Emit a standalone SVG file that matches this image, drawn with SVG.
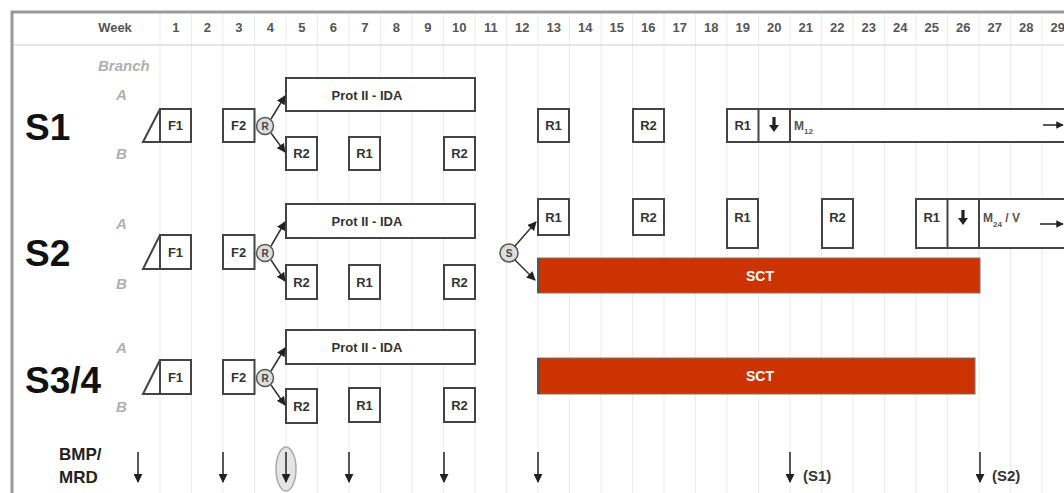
<svg xmlns="http://www.w3.org/2000/svg" width="1064" height="493" viewBox="0 0 1064 493">
<style>
text{font-family:"Liberation Sans",Arial,sans-serif;font-weight:bold}
.wk{font-size:13px;fill:#555;text-anchor:middle}
.grid{stroke:#ebebeb;stroke-width:1}
.box{fill:#fff;stroke:#444;stroke-width:2}
.bl{font-size:13px;fill:#333;text-anchor:middle}
.big{font-size:37px;fill:#111}
.br{font-size:15px;fill:#b0b0b0;font-style:italic}
.circ{fill:#ddd;stroke:#555;stroke-width:1.5}
.ct{font-size:10px;fill:#444;text-anchor:middle}
.sct{fill:#cc3300;stroke:#777;stroke-width:1}
.sctt{font-size:14px;fill:#fff;text-anchor:middle}
.con{stroke:#333;stroke-width:1.5;fill:none}
.da{fill:#222}
</style>
<defs>
<marker id="ah" viewBox="0 0 10 10" refX="9" refY="5" markerWidth="6" markerHeight="6" orient="auto"><path d="M0,0 L10,5 L0,10 z" fill="#222"/></marker>
<marker id="ahd" viewBox="0 0 10 10" refX="9" refY="5" markerWidth="5" markerHeight="5" orient="auto"><path d="M0,0 L10,5 L0,10 z" fill="#222"/></marker>
<path id="dn" d="M-1.6,-8 L1.6,-8 L1.6,0 L5,0 L0,7 L-5,0 L-1.6,0 z"/>
</defs>
<rect width="1064" height="493" fill="#fff"/>
<g id="grid">
<path class="grid" d="M160,14V493M191.5,14V493M223,14V493M254.5,14V493M286,14V493M317.5,14V493M349,14V493M380.5,14V493M412,14V493M443.5,14V493M475,14V493M506.5,14V493M538,14V493M569.5,14V493M601,14V493M632.5,14V493M664,14V493M695.5,14V493M727,14V493M758.5,14V493M790,14V493M821.5,14V493M853,14V493M884.5,14V493M916,14V493M947.5,14V493M979,14V493M1010.5,14V493M1042,14V493"/>
<line x1="14" y1="45" x2="1064" y2="45" stroke="#ddd" stroke-width="1.5"/>
<path d="M12,493V12H1064" fill="none" stroke="#999" stroke-width="3"/>
</g>
<g id="header">
<text x="115" y="32" class="wk">Week</text>
<text x="175.75" y="32" class="wk">1</text><text x="207.25" y="32" class="wk">2</text><text x="238.75" y="32" class="wk">3</text><text x="270.25" y="32" class="wk">4</text><text x="301.75" y="32" class="wk">5</text><text x="333.25" y="32" class="wk">6</text><text x="364.75" y="32" class="wk">7</text><text x="396.25" y="32" class="wk">8</text><text x="427.75" y="32" class="wk">9</text><text x="459.25" y="32" class="wk">10</text><text x="490.75" y="32" class="wk">11</text><text x="522.25" y="32" class="wk">12</text><text x="553.75" y="32" class="wk">13</text><text x="585.25" y="32" class="wk">14</text><text x="616.75" y="32" class="wk">15</text><text x="648.25" y="32" class="wk">16</text><text x="679.75" y="32" class="wk">17</text><text x="711.25" y="32" class="wk">18</text><text x="742.75" y="32" class="wk">19</text><text x="774.25" y="32" class="wk">20</text><text x="805.75" y="32" class="wk">21</text><text x="837.25" y="32" class="wk">22</text><text x="868.75" y="32" class="wk">23</text><text x="900.25" y="32" class="wk">24</text><text x="931.75" y="32" class="wk">25</text><text x="963.25" y="32" class="wk">26</text><text x="994.75" y="32" class="wk">27</text><text x="1026.25" y="32" class="wk">28</text><text x="1057.75" y="32" class="wk">29</text>
<text x="98" y="71" class="br">Branch</text>
</g>

<g id="s1">
<text x="25" y="140" class="big">S1</text>
<text x="116" y="100" class="br">A</text>
<text x="116" y="159" class="br">B</text>
</g>
<g id="s1-f1"><path class="box" d="M143,142 L160,109 L160,142 z"/><rect class="box" x="160" y="109" width="31" height="33"/><text x="175.5" y="130" class="bl">F1</text></g>
<g id="s1-f2"><rect class="box" x="223" y="109" width="31.5" height="33"/><text x="238.7" y="130" class="bl">F2</text></g>
<g id="s1-r"><circle class="circ" cx="265" cy="126" r="8.5"/><text x="265" y="129.5" class="ct">R</text></g>
<g id="s1-prot"><rect class="box" x="286" y="78" width="189" height="33"/><text x="367" y="100" class="bl" font-size="14">Prot II - IDA</text></g>
<g id="s1-b1"><rect class="box" x="286" y="137" width="31" height="33"/><text x="301.5" y="158" class="bl">R2</text></g>
<g id="s1-b2"><rect class="box" x="349" y="137" width="31" height="33"/><text x="364.5" y="158" class="bl">R1</text></g>
<g id="s1-b3"><rect class="box" x="444" y="137" width="31" height="33"/><text x="459.5" y="158" class="bl">R2</text></g>
<g id="s1-a1"><rect class="box" x="538" y="109" width="31" height="33"/><text x="553.5" y="130" class="bl">R1</text></g>
<g id="s1-a2"><rect class="box" x="633" y="109" width="31" height="33"/><text x="648.5" y="130" class="bl">R2</text></g>
<g id="s1-m"><rect class="box" x="727" y="109" width="345" height="33"/><line x1="758.5" y1="109" x2="758.5" y2="142" stroke="#444" stroke-width="2"/><line x1="790" y1="109" x2="790" y2="142" stroke="#444" stroke-width="2"/>
<text x="742.7" y="130" class="bl">R1</text><use href="#dn" x="774" y="125" class="da"/>
<text x="794" y="130" font-size="12" fill="#555">M<tspan font-size="8" dy="4">12</tspan></text>
<line x1="1043" y1="125" x2="1063" y2="125" stroke="#222" stroke-width="1.5" marker-end="url(#ahd)"/></g>

<g id="s2">
<text x="25" y="266" class="big">S2</text>
<text x="116" y="229" class="br">A</text>
<text x="116" y="289" class="br">B</text>
</g>
<g id="s2-f1"><path class="box" d="M143,269 L160,235 L160,269 z"/><rect class="box" x="160" y="235" width="31" height="34"/><text x="175.5" y="257" class="bl">F1</text></g>
<g id="s2-f2"><rect class="box" x="223" y="235" width="31.5" height="34"/><text x="238.7" y="257" class="bl">F2</text></g>
<g id="s2-r"><circle class="circ" cx="265" cy="253" r="8.5"/><text x="265" y="256.5" class="ct">R</text></g>
<g id="s2-prot"><rect class="box" x="286" y="204" width="189" height="34"/><text x="367" y="226" class="bl" font-size="14">Prot II - IDA</text></g>
<g id="s2-b1"><rect class="box" x="286" y="265" width="31" height="34"/><text x="301.5" y="287" class="bl">R2</text></g>
<g id="s2-b2"><rect class="box" x="349" y="265" width="31" height="34"/><text x="364.5" y="287" class="bl">R1</text></g>
<g id="s2-b3"><rect class="box" x="444" y="265" width="31" height="34"/><text x="459.5" y="287" class="bl">R2</text></g>
<g id="s2-s"><circle class="circ" cx="509" cy="253" r="9"/><text x="509" y="256.5" class="ct">S</text></g>
<g id="s2-a1"><rect class="box" x="538" y="199" width="31" height="36"/><text x="553.5" y="222" class="bl">R1</text></g>
<g id="s2-a2"><rect class="box" x="633" y="199" width="31" height="36"/><text x="648.5" y="222" class="bl">R2</text></g>
<g id="s2-a3"><rect class="box" x="727" y="199" width="31" height="49"/><text x="742.5" y="222" class="bl">R1</text></g>
<g id="s2-a4"><rect class="box" x="822" y="199" width="31" height="49"/><text x="837.5" y="222" class="bl">R2</text></g>
<g id="s2-m"><rect class="box" x="916" y="199" width="156" height="49"/><line x1="947.5" y1="199" x2="947.5" y2="248" stroke="#444" stroke-width="2"/><line x1="979" y1="199" x2="979" y2="248" stroke="#444" stroke-width="2"/>
<text x="931.7" y="222" class="bl">R1</text><use href="#dn" x="963" y="218" class="da"/>
<text x="983" y="222" font-size="12" fill="#555">M<tspan font-size="8" dy="5">24</tspan><tspan dy="-5"> / V</tspan></text>
<line x1="1040" y1="224" x2="1063" y2="224" stroke="#222" stroke-width="1.5" marker-end="url(#ahd)"/></g>
<g id="s2-sct"><rect class="sct" x="538" y="258" width="442" height="35"/><rect x="537" y="258" width="3" height="35" fill="#555"/><text x="760" y="281" class="sctt">SCT</text></g>

<g id="s34">
<text x="25" y="393" class="big">S3/4</text>
<text x="116" y="353" class="br">A</text>
<text x="116" y="412" class="br">B</text>
</g>
<g id="s34-f1"><path class="box" d="M143,394 L160,360 L160,394 z"/><rect class="box" x="160" y="360" width="31" height="34"/><text x="175.5" y="382" class="bl">F1</text></g>
<g id="s34-f2"><rect class="box" x="223" y="360" width="31.5" height="34"/><text x="238.7" y="382" class="bl">F2</text></g>
<g id="s34-r"><circle class="circ" cx="265" cy="378" r="8.5"/><text x="265" y="381.5" class="ct">R</text></g>
<g id="s34-prot"><rect class="box" x="286" y="330" width="189" height="34"/><text x="367" y="352" class="bl" font-size="14">Prot II - IDA</text></g>
<g id="s34-b1"><rect class="box" x="286" y="389" width="31" height="34"/><text x="301.5" y="411" class="bl">R2</text></g>
<g id="s34-b2"><rect class="box" x="349" y="388" width="31" height="34"/><text x="364.5" y="410" class="bl">R1</text></g>
<g id="s34-b3"><rect class="box" x="444" y="388" width="31" height="34"/><text x="459.5" y="410" class="bl">R2</text></g>
<g id="s34-sct"><rect class="sct" x="538" y="358" width="437" height="36"/><rect x="537" y="358" width="3" height="36" fill="#555"/><text x="760" y="381" class="sctt">SCT</text></g>

<g id="bmp">
<text x="59" y="460" font-size="17" fill="#222">BMP/</text>
<text x="59" y="483" font-size="17" fill="#222">MRD</text>
<ellipse cx="286" cy="469" rx="10" ry="22" fill="#e4e4e4" stroke="#aaa" stroke-width="1.5"/>
<text x="803" y="481" font-size="15" fill="#333">(S1)</text>
<text x="992" y="481" font-size="15" fill="#333">(S2)</text>
</g>

<g id="connectors">
<line class="con" x1="271" y1="119" x2="285" y2="96" marker-end="url(#ah)"/>
<line class="con" x1="271" y1="133" x2="285" y2="152" marker-end="url(#ah)"/>
<line class="con" x1="271" y1="246" x2="285" y2="222" marker-end="url(#ah)"/>
<line class="con" x1="271" y1="260" x2="285" y2="281" marker-end="url(#ah)"/>
<line class="con" x1="271" y1="371" x2="285" y2="348" marker-end="url(#ah)"/>
<line class="con" x1="271" y1="385" x2="285" y2="405" marker-end="url(#ah)"/>
<line class="con" x1="515" y1="246" x2="536" y2="222" marker-end="url(#ah)"/>
<line class="con" x1="515" y1="260" x2="535" y2="280" marker-end="url(#ah)"/>
<g stroke="#222" stroke-width="1.5" marker-end="url(#ah)">
<line x1="138" y1="452" x2="138" y2="482"/>
<line x1="223" y1="452" x2="223" y2="482"/>
<line x1="286" y1="452" x2="286" y2="482"/>
<line x1="349" y1="452" x2="349" y2="482"/>
<line x1="444" y1="452" x2="444" y2="482"/>
<line x1="538" y1="452" x2="538" y2="482"/>
<line x1="790" y1="452" x2="790" y2="482"/>
<line x1="980" y1="452" x2="980" y2="482"/>
</g>
</g>
</svg>
